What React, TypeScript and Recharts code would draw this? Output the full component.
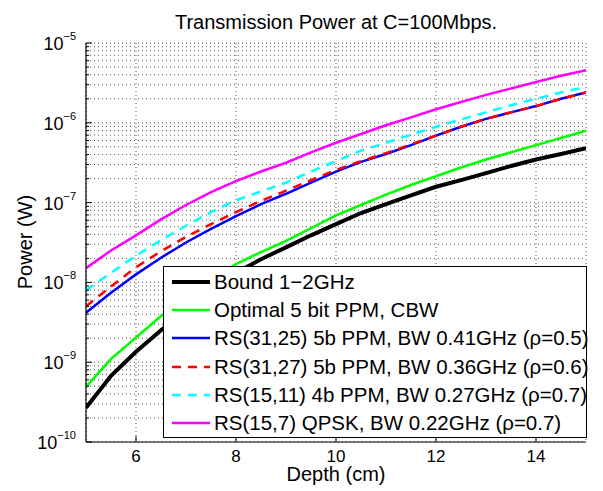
import React from 'react';
import { LineChart, Line, XAxis, YAxis, CartesianGrid, Legend } from 'recharts';

// ---------- data ----------
const depth = [5, 5.5, 6, 6.5, 7, 7.5, 8, 8.5, 9, 9.5, 10, 10.5, 11, 11.5, 12, 12.5, 13, 13.5, 14, 14.5, 15];
const boundPower = [2.69e-10, 6.76e-10, 1.35e-9, 2.51e-9, 4.47e-9, 7.94e-9, 1.32e-8, 1.95e-8, 2.75e-8, 3.89e-8, 5.37e-8, 7.41e-8, 9.55e-8, 1.23e-7, 1.58e-7, 1.91e-7, 2.34e-7, 2.88e-7, 3.47e-7, 4.07e-7, 4.79e-7];
const optimalPower = [4.9e-10, 1.1e-9, 2.04e-9, 3.8e-9, 6.76e-9, 1.1e-8, 1.7e-8, 2.4e-8, 3.31e-8, 4.79e-8, 6.92e-8, 9.33e-8, 1.26e-7, 1.66e-7, 2.14e-7, 2.75e-7, 3.47e-7, 4.27e-7, 5.25e-7, 6.46e-7, 7.94e-7];
const rs3125Power = [4.17e-9, 7.41e-9, 1.26e-8, 2.04e-8, 3.16e-8, 4.68e-8, 6.76e-8, 9.55e-8, 1.29e-7, 1.78e-7, 2.45e-7, 3.24e-7, 4.07e-7, 5.25e-7, 6.92e-7, 8.91e-7, 1.12e-6, 1.35e-6, 1.62e-6, 2.0e-6, 2.4e-6];
const rs3127Power = [5.01e-9, 8.91e-9, 1.55e-8, 2.45e-8, 3.72e-8, 5.37e-8, 7.59e-8, 1.05e-7, 1.41e-7, 1.91e-7, 2.57e-7, 3.31e-7, 4.17e-7, 5.37e-7, 6.92e-7, 8.91e-7, 1.12e-6, 1.35e-6, 1.62e-6, 2.0e-6, 2.4e-6];
const rs1511Power = [7.94e-9, 1.32e-8, 2.16e-8, 3.39e-8, 5.13e-8, 7.59e-8, 1.07e-7, 1.38e-7, 1.78e-7, 2.45e-7, 3.31e-7, 4.47e-7, 5.62e-7, 7.08e-7, 8.91e-7, 1.1e-6, 1.35e-6, 1.66e-6, 2.0e-6, 2.4e-6, 2.82e-6];
const rs157Power = [1.51e-8, 2.51e-8, 3.89e-8, 6.17e-8, 9.33e-8, 1.35e-7, 1.86e-7, 2.45e-7, 3.16e-7, 4.27e-7, 5.62e-7, 7.24e-7, 9.33e-7, 1.17e-6, 1.48e-6, 1.82e-6, 2.24e-6, 2.69e-6, 3.24e-6, 3.89e-6, 4.57e-6];

const seriesNames = [
  'Bound 1\u22122GHz',
  'Optimal 5 bit PPM, CBW',
  'RS(31,25) 5b PPM, BW 0.41GHz (\u03c1=0.5)',
  'RS(31,27) 5b PPM, BW 0.36GHz (\u03c1=0.6)',
  'RS(15,11) 4b PPM, BW 0.27GHz (\u03c1=0.7)',
  'RS(15,7) QPSK, BW 0.22GHz (\u03c1=0.7)',
];

const xTicks = [6, 8, 10, 12, 14];
const decadeValues = [1e-10, 1e-9, 1e-8, 1e-7, 1e-6, 1e-5];
const decadeExponents = ['\u221210', '\u22129', '\u22128', '\u22127', '\u22126', '\u22125'];
const minorMultipliers = [1, 2, 3, 4, 5, 6, 7, 8, 9];

const title = 'Transmission Power at C=100Mbps.';
const xLabel = 'Depth (cm)';
const yLabel = 'Power (W)';

// ---------- derived tables ----------
const seriesValues = [boundPower, optimalPower, rs3125Power, rs3127Power, rs1511Power, rs157Power];
const seriesKeys = ['bound', 'optimal', 'rs3125', 'rs3127', 'rs1511', 'rs157'];
const seriesStyle = [
  { color: '#000000', width: 4, dash: undefined as string | undefined },
  { color: '#00ff00', width: 2.5, dash: undefined },
  { color: '#0000ff', width: 2.5, dash: undefined },
  { color: '#ff0000', width: 2.5, dash: '9 7' },
  { color: '#00ffff', width: 2.5, dash: '9 7' },
  { color: '#ff00ff', width: 2.5, dash: undefined },
];

const data = depth.map((d, i) => {
  const row: Record<string, number> = { depth: d };
  seriesKeys.forEach((k, j) => {
    row[k] = seriesValues[j][i];
  });
  return row;
});

const yTicks = decadeValues
  .slice(0, -1)
  .flatMap((d) => minorMultipliers.map((m) => m * d))
  .concat([decadeValues[decadeValues.length - 1]]);

const decadeIndex = (v: number) =>
  decadeValues.findIndex((d) => Math.abs(v - d) / d < 1e-6);

// ---------- layout ----------
const FONT = "'Liberation Sans', Arial, Helvetica, sans-serif";
const W = 595;
const H = 483;
const Y_TICK_MARGIN = 10;
const X_TICK_MARGIN = 20;
const MAJOR = 6;
const MINOR = 3;

const LeftTick = (props: any) => {
  const { x, y, payload } = props;
  const axisX = x + Y_TICK_MARGIN;
  const idx = decadeIndex(payload.value);
  const major = idx >= 0;
  return (
    <g>
      <line x1={axisX} y1={y} x2={axisX + (major ? MAJOR : MINOR)} y2={y} stroke="#000" strokeWidth={1} />
      {major && (
        <text x={x} y={y + 7} textAnchor="end" fontFamily={FONT} fontSize={18} fill="#000">
          <tspan>10</tspan>
          <tspan dy={-10} fontSize={11}>{decadeExponents[idx]}</tspan>
        </text>
      )}
    </g>
  );
};

const RightTick = (props: any) => {
  const { x, y, payload } = props;
  const major = decadeIndex(payload.value) >= 0;
  return <line x1={x} y1={y} x2={x - (major ? MAJOR : MINOR)} y2={y} stroke="#000" strokeWidth={1} />;
};

const BottomTick = (props: any) => {
  const { x, y, payload } = props;
  const axisY = y - X_TICK_MARGIN;
  return (
    <g>
      <line x1={x} y1={axisY} x2={x} y2={axisY - MAJOR} stroke="#000" strokeWidth={1} />
      <text x={x} y={y} textAnchor="middle" fontFamily={FONT} fontSize={17} fill="#000">
        {payload.value}
      </text>
    </g>
  );
};

const TopTick = (props: any) => {
  const { x, y } = props;
  return <line x1={x} y1={y} x2={x} y2={y + MAJOR} stroke="#000" strokeWidth={1} />;
};

const LegendBox = () => (
  <div
    style={{
      width: '100%',
      height: '100%',
      boxSizing: 'border-box',
      border: '1px solid #000',
      background: '#fff',
      paddingTop: 1,
      fontFamily: FONT,
      fontSize: 20.5,
      color: '#000',
    }}
  >
    {seriesNames.map((name, i) => (
      <div key={name} style={{ height: 28.2, display: 'flex', alignItems: 'center', whiteSpace: 'nowrap' }}>
        <svg width={46} height={10} style={{ marginLeft: 8, flex: 'none' }}>
          <line
            x1={0}
            y1={5}
            x2={38}
            y2={5}
            stroke={seriesStyle[i].color}
            strokeWidth={seriesStyle[i].width}
            strokeDasharray={seriesStyle[i].dash}
          />
        </svg>
        <span style={{ marginLeft: -4 }}>{name}</span>
      </div>
    ))}
  </div>
);

export default function App() {
  return (
    <div style={{ position: 'relative', width: W, height: H, background: '#fff' }}>
      <LineChart width={W} height={H} data={data} margin={{ top: 35, right: 17, bottom: 19, left: 0 }}>
        <CartesianGrid stroke="#555" strokeDasharray="1 3" strokeWidth={1} />
        <XAxis
          dataKey="depth"
          type="number"
          domain={[5, 15]}
          ticks={xTicks}
          allowDataOverflow
          height={30}
          tickSize={0}
          tickMargin={X_TICK_MARGIN}
          tickLine={false}
          axisLine={{ stroke: '#000', strokeWidth: 1.2 }}
          tick={<BottomTick />}
          interval={0}
        />
        <XAxis
          xAxisId="top"
          orientation="top"
          dataKey="depth"
          type="number"
          domain={[5, 15]}
          ticks={xTicks}
          allowDataOverflow
          height={0}
          tickSize={0}
          tickMargin={0}
          tickLine={false}
          axisLine={{ stroke: '#000', strokeWidth: 1.2 }}
          tick={<TopTick />}
          interval={0}
        />
        <YAxis
          type="number"
          scale="log"
          domain={[1e-10, 1e-5]}
          ticks={yTicks}
          allowDataOverflow
          width={78}
          tickSize={0}
          tickMargin={Y_TICK_MARGIN}
          tickLine={false}
          axisLine={{ stroke: '#000', strokeWidth: 1.2 }}
          tick={<LeftTick />}
          interval={0}
        />
        <YAxis
          yAxisId="right"
          orientation="right"
          type="number"
          scale="log"
          domain={[1e-10, 1e-5]}
          ticks={yTicks}
          allowDataOverflow
          width={0}
          tickSize={0}
          tickMargin={0}
          tickLine={false}
          axisLine={{ stroke: '#000', strokeWidth: 1.2 }}
          tick={<RightTick />}
          interval={0}
        />
        {seriesKeys.map((k, i) => (
          <Line
            key={k}
            dataKey={k}
            name={seriesNames[i]}
            type="linear"
            stroke={seriesStyle[i].color}
            strokeWidth={seriesStyle[i].width}
            strokeDasharray={seriesStyle[i].dash}
            dot={false}
            activeDot={false}
            isAnimationActive={false}
          />
        ))}
        <Legend
          layout="vertical"
          align="center"
          verticalAlign="middle"
          wrapperStyle={{ left: 155, top: 258, width: 424, height: 172 }}
          content={() => <LegendBox />}
        />
      </LineChart>
      <svg
        width={W}
        height={H}
        style={{ position: 'absolute', left: 0, top: 0, pointerEvents: 'none' }}
      >
        <text x={328} y={21} textAnchor="middle" fontFamily={FONT} fontSize={20} fill="#000">
          {title}
        </text>
        <text x={328} y={473} textAnchor="middle" fontFamily={FONT} fontSize={20} fill="#000">
          {xLabel}
        </text>
        <text
          x={24}
          y={234}
          textAnchor="middle"
          fontFamily={FONT}
          fontSize={20}
          fill="#000"
          transform="rotate(-90 24 234)"
        >
          {yLabel}
        </text>
      </svg>
    </div>
  );
}
